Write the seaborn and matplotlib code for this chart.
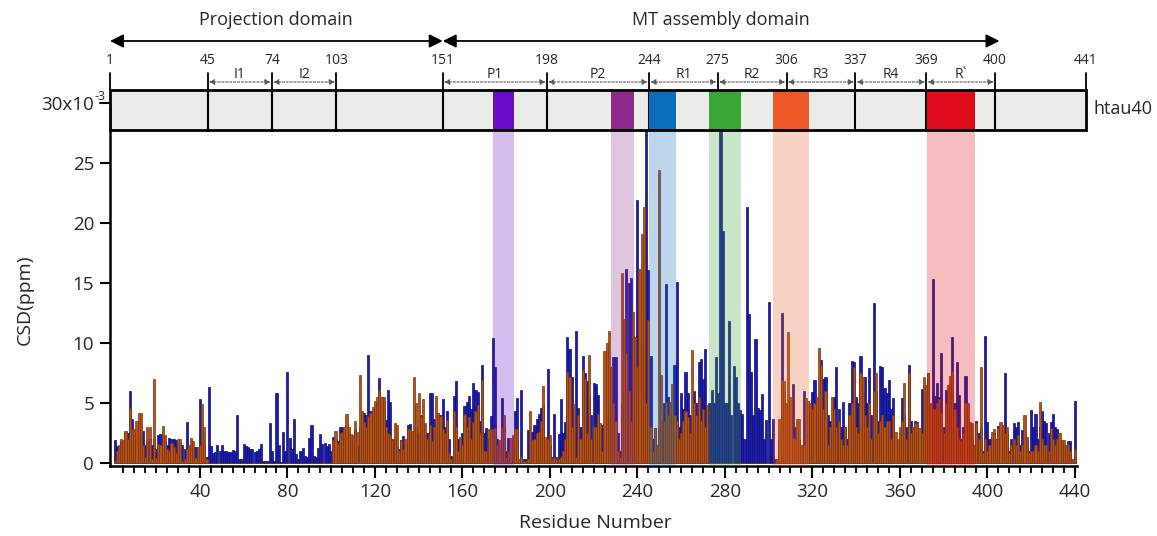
import numpy as np
import pandas as pd
import matplotlib
matplotlib.use("Agg")
import matplotlib.pyplot as plt
import seaborn as sns
from matplotlib.patches import Rectangle
from matplotlib.transforms import blended_transform_factory

# ---------------- data ----------------
residues = list(range(1, 441))

csd_blue = [
    1.9, 1.4, 1.4, 1.8, 1.5, 2.6, 2.5, 6.0, 3.7, 2.5,
    2.2, 2.5, 2.2, 2.7, 1.5, 1.8, 2.0, 1.5, 2.0, 1.2,
    2.3, 2.4, 2.2, 1.8, 1.5, 2.05, 2.0, 2.0, 1.9, 1.3,
    1.6, 1.5, 1.2, 3.4, 1.0, 1.5, 1.3, 1.35, 1.0, 5.35,
    2.0, 1.5, 0.5, 6.3, 1.4, 0.8, 0.9, 1.5, 1.0, 1.5,
    1.0, 1.0, 0.9, 0.9, 1.1, 1.0, 4.0, 0.3, 0.3, 1.55,
    1.4, 1.35, 1.2, 1.15, 0.95, 1.0, 1.2, 1.55, 0.2, 0.2,
    0.2, 3.3, 1.0, 0.2, 5.8, 1.5, 0.1, 2.6, 1.0, 7.6,
    2.1, 1.2, 3.7, 0.75, 0.3, 1.0, 1.25, 0.6, 0.5, 2.05,
    3.2, 0.6, 0.5, 1.25, 2.4, 1.6, 1.7, 1.4, 1.55, 1.0,
    2.2, 2.0, 1.8, 3.0, 3.0, 2.0, 3.2, 2.5, 1.5, 1.8,
    2.8, 1.5, 3.0, 2.5, 4.2, 4.0, 9.0, 4.3, 3.8, 4.5,
    5.0, 7.1, 5.5, 5.2, 3.6, 6.1, 5.1, 2.0, 2.0, 1.3,
    1.2, 1.9, 2.25, 1.5, 3.2, 3.25, 1.8, 1.5, 3.0, 2.5,
    4.0, 3.0, 2.0, 2.5, 5.8, 5.8, 3.7, 2.0, 2.5, 4.0,
    5.3, 3.0, 4.3, 2.0, 0.6, 5.6, 6.8, 2.0, 1.5, 2.5,
    4.75, 5.05, 5.6, 4.5, 6.7, 6.1, 5.9, 3.5, 8.2, 2.5,
    2.95, 2.0, 3.9, 10.4, 8.0, 2.0, 1.5, 5.45, 3.0, 1.0,
    2.05, 1.5, 2.0, 4.3, 5.45, 0.3, 6.1, 0.3, 0.3, 2.75,
    1.5, 2.6, 3.2, 3.7, 4.1, 4.6, 4.8, 2.0, 7.8, 1.5,
    0.5, 4.1, 0.5, 2.4, 5.3, 2.5, 3.4, 10.5, 9.5, 7.2,
    4.0, 11.0, 4.6, 3.0, 8.9, 7.5, 6.8, 5.5, 4.0, 6.7,
    6.6, 5.7, 2.0, 3.2, 3.0, 3.5, 4.0, 3.5, 8.8, 8.8,
    2.5, 1.0, 5.0, 6.0, 16.2, 15.0, 15.4, 6.0, 4.0, 21.9,
    12.0, 10.0, 6.0, 28.0, 16.1, 8.9, 2.0, 2.9, 1.5, 3.0,
    3.5, 5.0, 14.9, 5.5, 3.5, 4.0, 8.2, 15.1, 3.0, 5.8,
    4.5, 7.6, 5.8, 4.0, 3.5, 6.0, 5.0, 8.4, 8.7, 7.0,
    9.5, 4.5, 5.0, 6.1, 5.0, 8.8, 5.8, 28.0, 19.3, 5.0,
    5.0, 11.8, 4.0, 8.1, 7.2, 5.0, 4.4, 4.1, 2.0, 21.3,
    12.4, 7.6, 4.0, 10.3, 4.55, 4.4, 5.75, 2.0, 3.6, 13.4,
    2.0, 3.7, 0.3, 0.3, 2.0, 12.5, 6.0, 3.0, 5.0, 4.0,
    6.6, 3.0, 2.5, 2.0, 1.5, 6.0, 4.0, 3.5, 4.0, 5.95,
    6.9, 4.5, 3.5, 8.6, 7.0, 7.2, 4.0, 3.5, 3.0, 5.5,
    7.97, 4.5, 3.0, 5.1, 3.0, 2.0, 5.0, 8.5, 8.4, 5.5,
    5.0, 8.9, 6.0, 7.2, 5.0, 7.9, 4.0, 13.3, 6.0, 3.5,
    8.1, 8.0, 6.25, 5.8, 6.9, 4.5, 5.45, 2.0, 1.5, 2.5,
    5.4, 4.0, 3.0, 8.15, 3.5, 2.0, 3.5, 3.45, 2.5, 6.14,
    6.5, 5.0, 7.5, 4.0, 15.3, 5.6, 6.7, 5.5, 9.2, 3.0,
    6.1, 4.0, 5.0, 10.5, 5.0, 8.4, 5.7, 2.0, 3.0, 7.25,
    3.5, 2.5, 2.0, 1.5, 3.5, 2.5, 3.0, 1.0, 10.6, 3.4,
    2.0, 2.2, 2.5, 2.0, 3.1, 2.5, 2.0, 7.5, 2.5, 1.0,
    2.0, 3.3, 3.0, 3.4, 1.5, 2.75, 2.5, 2.0, 1.0, 4.4,
    3.0, 4.1, 2.0, 3.0, 4.3, 3.5, 3.3, 2.5, 3.4, 4.1,
    3.0, 2.8, 2.0, 1.5, 1.5, 1.2, 1.8, 1.8, 0.3, 5.2,
]

csd_orange = [
    0.2, 1.0, 1.5, 2.0, 1.9, 2.7, 2.0, 4.6, 2.8, 2.8,
    3.5, 4.2, 4.2, 1.5, 0.5, 3.0, 3.0, 0.3, 7.0, 0.4,
    1.6, 1.5, 3.1, 2.3, 1.2, 1.0, 1.7, 1.3, 0.8, 2.0,
    2.0, 0.2, 0.3, 1.2, 1.5, 2.1, 1.8, 0.4, 1.3, 1.5,
    4.9, 3.0, 0.3, 0.0, 0.0, 0.0, 0.0, 0.0, 0.0, 0.0,
    0.0, 0.0, 0.0, 0.0, 0.0, 0.0, 0.0, 0.0, 0.0, 0.0,
    0.0, 0.0, 0.0, 0.0, 0.0, 0.0, 0.0, 0.0, 0.0, 0.0,
    0.0, 0.0, 0.0, 0.0, 0.0, 0.0, 0.0, 0.0, 0.0, 0.0,
    0.0, 0.0, 0.0, 0.0, 0.0, 0.0, 0.0, 0.0, 0.0, 0.0,
    0.0, 0.0, 0.0, 0.0, 0.0, 0.0, 0.0, 0.0, 0.0, 0.0,
    1.9, 2.7, 1.6, 2.5, 2.6, 3.0, 4.1, 3.0, 2.4, 2.3,
    3.5, 2.6, 7.3, 4.3, 3.4, 3.0, 3.9, 4.2, 4.7, 5.2,
    5.5, 6.1, 5.5, 5.5, 3.0, 2.5, 2.3, 1.9, 3.3, 3.2,
    1.0, 1.9, 1.2, 2.0, 2.8, 2.8, 2.7, 7.2, 5.0, 5.8,
    3.9, 5.3, 3.3, 2.0, 3.2, 1.8, 3.0, 5.6, 4.2, 3.9,
    2.8, 2.5, 3.6, 0.8, 0.3, 4.3, 3.0, 1.0, 2.2, 1.5,
    4.1, 3.0, 3.8, 2.0, 3.4, 4.3, 4.8, 2.5, 6.9, 1.0,
    1.0, 2.8, 2.8, 2.8, 2.9, 1.5, 1.9, 3.0, 4.0, 0.5,
    1.0, 2.1, 2.3, 2.8, 2.8, 0.3, 0.5, 0.2, 0.2, 0.3,
    4.3, 1.9, 2.0, 2.5, 2.6, 3.5, 6.4, 2.2, 2.0, 2.3,
    0.3, 0.5, 0.3, 0.3, 0.5, 1.0, 2.0, 7.6, 7.2, 3.0,
    4.9, 0.5, 4.0, 2.0, 7.75, 7.0, 2.5, 9.0, 2.0, 3.0,
    3.0, 4.1, 3.3, 1.0, 9.3, 10.0, 11.0, 8.0, 5.0, 3.5,
    1.0, 0.5, 15.8, 12.0, 9.2, 6.0, 3.5, 12.6, 10.5, 8.0,
    16.2, 19.1, 21.3, 5.0, 11.9, 3.0, 1.0, 2.9, 1.5, 24.4,
    7.3, 3.5, 5.1, 4.0, 5.1, 6.6, 4.0, 3.5, 2.0, 2.5,
    3.5, 4.3, 3.8, 2.5, 9.4, 5.0, 4.0, 5.5, 3.5, 4.5,
    3.0, 4.8, 0.0, 0.0, 0.0, 0.0, 0.0, 0.0, 0.0, 0.0,
    0.0, 0.0, 0.0, 0.0, 0.0, 0.0, 0.0, 0.0, 0.0, 0.0,
    0.0, 0.0, 0.0, 0.0, 0.0, 0.0, 0.0, 0.0, 0.0, 0.0,
    0.0, 0.0, 0.0, 0.3, 3.7, 6.9, 6.8, 5.0, 10.9, 5.5,
    2.1, 2.0, 3.7, 3.7, 1.5, 1.5, 5.4, 5.2, 5.0, 4.5,
    5.0, 5.5, 9.6, 8.2, 4.5, 6.0, 1.5, 3.0, 5.5, 4.5,
    3.0, 3.5, 2.0, 1.5, 3.0, 1.5, 4.0, 5.0, 8.0, 3.0,
    2.5, 7.5, 7.2, 4.0, 3.0, 5.0, 2.0, 6.0, 7.5, 2.5,
    3.5, 4.0, 3.0, 3.5, 3.5, 2.0, 4.0, 2.6, 2.0, 3.0,
    3.5, 6.7, 2.0, 7.5, 2.5, 3.0, 3.3, 3.3, 2.95, 2.5,
    7.2, 6.5, 7.5, 5.0, 4.5, 4.5, 5.0, 5.3, 4.2, 2.5,
    5.0, 6.5, 7.25, 7.7, 4.5, 3.0, 2.0, 1.8, 2.5, 5.0,
    5.0, 3.4, 3.3, 1.5, 3.3, 2.0, 8.0, 0.8, 2.0, 1.0,
    1.5, 2.6, 2.8, 2.0, 2.9, 3.4, 3.2, 2.5, 3.0, 0.8,
    1.5, 2.0, 1.5, 2.3, 1.0, 1.5, 4.0, 2.2, 0.8, 1.0,
    1.0, 1.5, 1.0, 5.1, 2.0, 1.5, 1.5, 1.0, 2.9, 2.0,
    1.5, 2.0, 2.5, 1.9, 1.9, 1.5, 1.6, 1.0, 0.3, 1.2,
]

x_major_ticks = [40, 80, 120, 160, 200, 240, 280, 320, 360, 400, 440]
y_major_ticks = [0, 5, 10, 15, 20, 25]

# htau40 domain map (residue numbers)
domain_bounds = [1, 45, 74, 103, 151, 198, 244, 275, 306, 337, 369, 400, 441]
inner_lines = [45, 74, 103, 151, 198, 244, 275, 306, 337, 369, 400]
seg_names = ["I1", "I2", "P1", "P2", "R1", "R2", "R3", "R4", "R`"]
seg_start = [45, 74, 151, 198, 244, 275, 306, 337, 369]
seg_end = [74, 103, 198, 244, 275, 306, 337, 369, 400]

region_start = [173.7, 226.9, 244.0, 271.1, 299.9, 369.4]
region_end = [183.2, 237.3, 256.2, 285.5, 316.1, 391.0]
region_colors = ["#6a0dc8", "#8e2a8e", "#0a6ebd", "#3aa635", "#f05a28", "#e00b1a"]

domain_names = ["Projection domain", "MT assembly domain"]
domain_from = [1, 151]
domain_to = [151, 402]

# ---------------- figure ----------------
sns.set_style("ticks")
plt.rcParams['font.family'] = ['Open Sans', 'DejaVu Sans']

W, H = 1157, 536
fig = plt.figure(figsize=(W / 100, H / 100), dpi=100)


def px_axes(l, t, r, b):
    return [l / W, 1 - b / H, (r - l) / W, (b - t) / H]


ax = fig.add_axes(px_axes(110, 129.5, 1077, 466))
top = fig.add_axes(px_axes(110, 0, 1086, 129.5))
top.set_xlim(1, 441)
top.set_ylim(129.5, 0)
top.axis("off")

df = pd.DataFrame({"Residue": residues, "blue": csd_blue, "orange": csd_orange})
sns.barplot(data=df, x="Residue", y="blue", native_scale=True, width=0.97,
            color="#1c1cae", edgecolor="#0c0c74", linewidth=0.5,
            errorbar=None, saturation=1, ax=ax)
sns.barplot(data=df, x="Residue", y="orange", native_scale=True, width=0.97,
            color="#b4521a", edgecolor="#80360c", linewidth=0.5,
            errorbar=None, saturation=1, ax=ax)

ax.set_xlim(-1.1, 441)
ax.set_ylim(-0.25, 27.8)
ax.set_xticks(x_major_ticks)
ax.set_xticklabels([str(t) for t in x_major_ticks])
ax.set_xticks([m for m in range(5, 441, 5) if m not in x_major_ticks], minor=True)
ax.set_yticks(y_major_ticks)
ax.set_yticklabels([str(t) for t in y_major_ticks])
ax.tick_params(axis="x", which="major", length=8.5, width=1.5, labelsize=13.5, pad=4, color="black")
ax.tick_params(axis="x", which="minor", length=5, width=1.3, color="black")
ax.tick_params(axis="y", which="major", length=7.5, width=1.5, labelsize=13.5, pad=4, color="black")
ax.set_xlabel("")
ax.set_ylabel("")
for s in ["top", "right"]:
    ax.spines[s].set_visible(False)
for s in ["left", "bottom"]:
    ax.spines[s].set_linewidth(1.8)
    ax.spines[s].set_color("black")
ax.patch.set_alpha(0)

# translucent bands under the coloured regions
trans = blended_transform_factory(top.transData, ax.transAxes)
for s, e, c in zip(region_start, region_end, region_colors):
    ax.add_patch(Rectangle((s, 0), e - s, 1, transform=trans, facecolor=c,
                           alpha=0.27, lw=0, zorder=5))

# domain box
top.add_patch(Rectangle((1, 90), 440, 39.5, facecolor="#e9ede8", edgecolor="none", zorder=1))
for b in inner_lines:
    top.plot([b, b], [90, 129.5], color="black", lw=1.5, zorder=2)
for s, e, c in zip(region_start, region_end, region_colors):
    top.add_patch(Rectangle((s, 90), e - s, 39.5, facecolor=c, edgecolor="none", zorder=3))
top.add_patch(Rectangle((1, 90), 440, 39.5, facecolor="none", edgecolor="black", lw=2.0,
                        zorder=4, clip_on=False))

for b in domain_bounds:
    top.plot([b, b], [73, 90], color="black", lw=1.3, clip_on=False)
    top.text(b, 61, str(b), ha="center", va="center", fontsize=10)

for n, s, e in zip(seg_names, seg_start, seg_end):
    top.annotate("", xy=(e - 0.6, 82), xytext=(s + 0.6, 82),
                 arrowprops=dict(arrowstyle="<|-|>", linestyle=(0, (2, 1.5)), color="#5a5a5a",
                                 lw=0.8, mutation_scale=8, shrinkA=0, shrinkB=0))
    top.text((s + e) / 2, 75, n, ha="center", va="center", fontsize=10)

for n, s, e in zip(domain_names, domain_from, domain_to):
    top.annotate("", xy=(e, 41), xytext=(s, 41),
                 arrowprops=dict(arrowstyle="<|-|>", color="black", lw=1.3,
                                 mutation_scale=20, shrinkA=0, shrinkB=0))
    top.text((s + e) / 2, 20, n, ha="center", va="center", fontsize=13)

top.text(444.5, 109, "htau40", ha="left", va="center", fontsize=13, clip_on=False)

# 30x10^-3 tick label on the box
top.plot([-3.6, 1], [103, 103], color="black", lw=1.5, clip_on=False)
top.text(-6.3, 105, "30x10", ha="right", va="center", fontsize=13.5, clip_on=False)
top.text(-6.0, 97, "-3", ha="left", va="center", fontsize=9, clip_on=False)

fig.text(25 / W, 1 - 300 / H, "CSD(ppm)", rotation=90, ha="center", va="center", fontsize=14)
fig.text(595 / W, 1 - 523 / H, "Residue Number", ha="center", va="center", fontsize=14)

fig.savefig("out.png", dpi=100)
